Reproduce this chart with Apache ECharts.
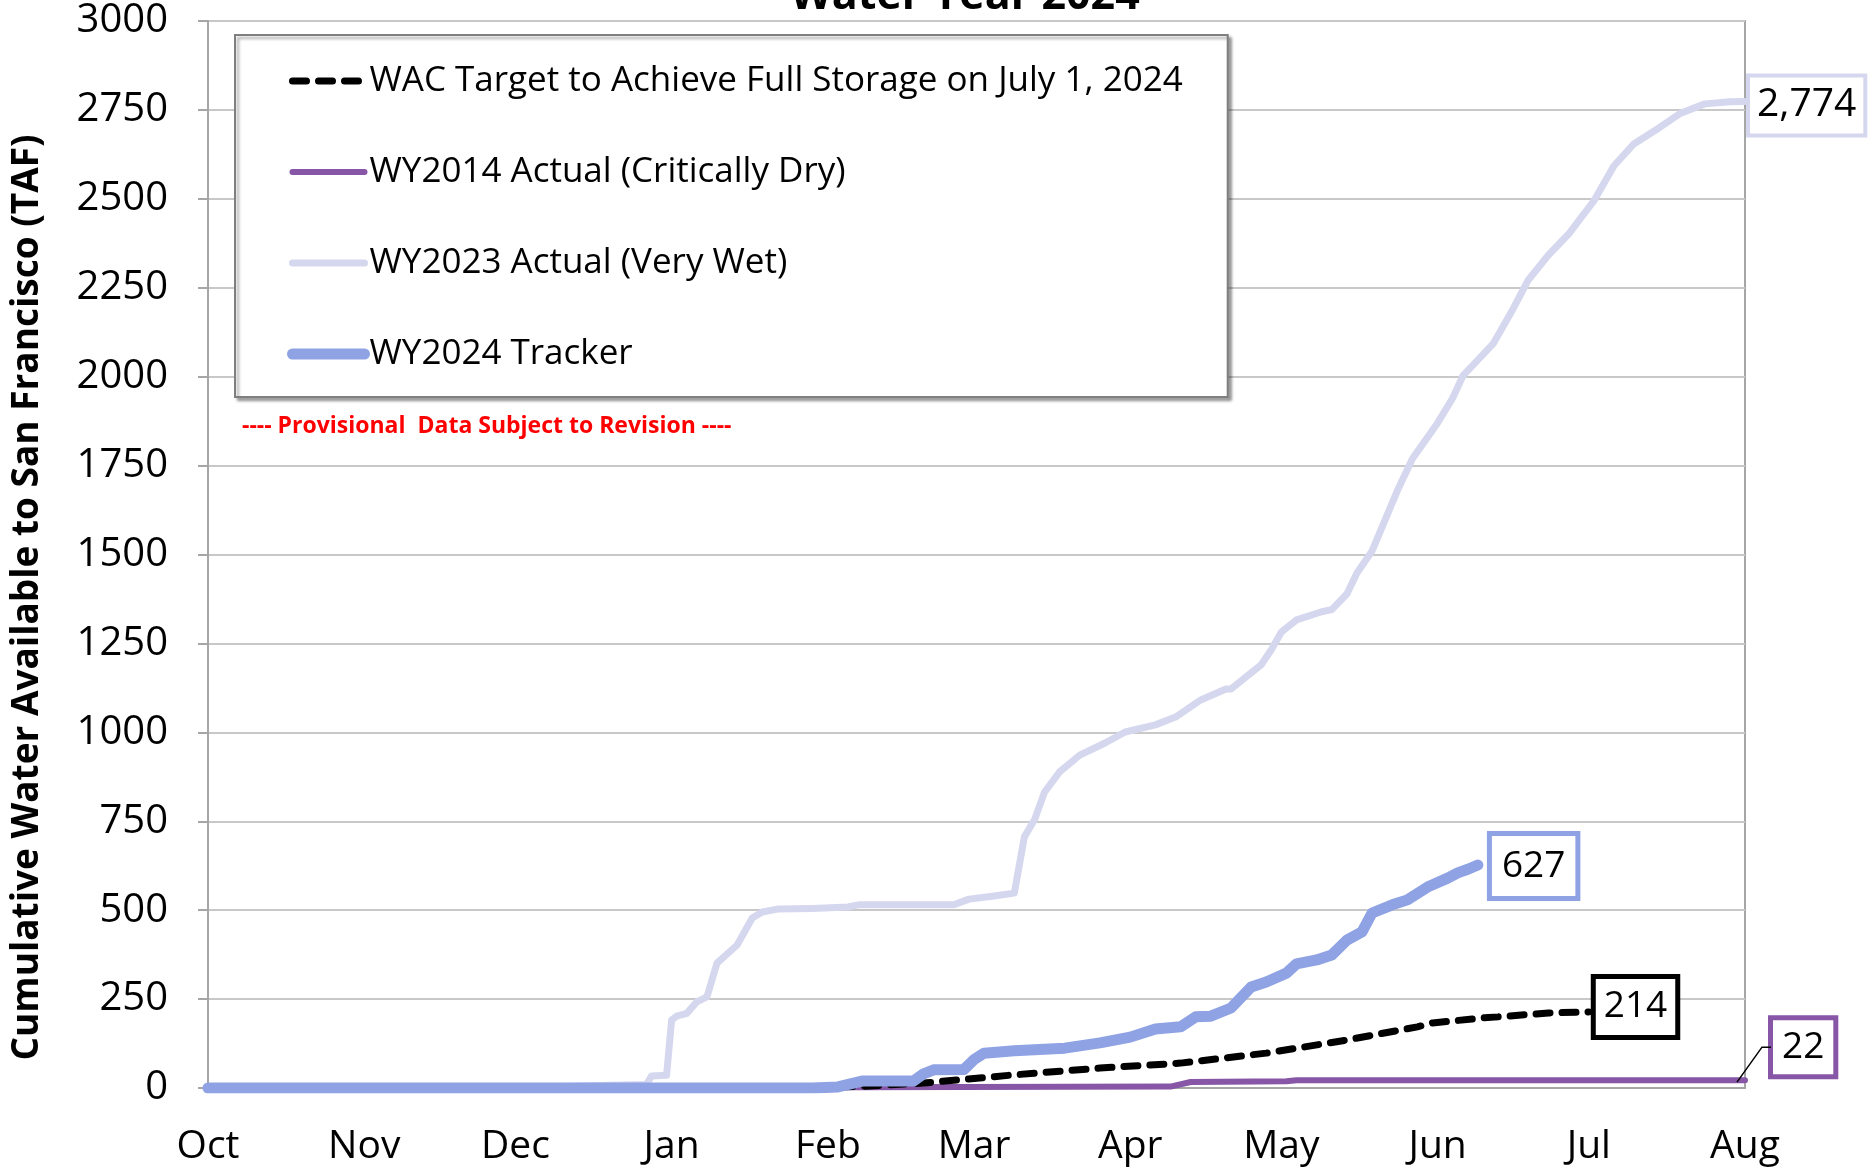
<!DOCTYPE html>
<html>
<head>
<meta charset="utf-8">
<script src="https://cdn.jsdelivr.net/npm/echarts@6/dist/echarts.min.js"></script>
<style>
html,body{margin:0;padding:0;background:#fff;}
#chart{width:1868px;height:1168px;}
</style>
</head>
<body>
<div id="chart"></div>
<script>
// ---- categories (days of water year, Oct 1 2023 .. Aug 1 2024) ----
const monthNames = ['Oct','Nov','Dec','Jan','Feb','Mar','Apr','May','Jun','Jul','Aug'];
const monthLengths = [31,30,31,31,29,31,30,31,30,31,1];
const categories = [];
monthNames.forEach((m, i) => { for (let d = 1; d <= monthLengths[i]; d++) categories.push(m + ' ' + d); });

// ---- y axis ticks ----
const yMin = 0, yMax = 3000, yInterval = 250;

// ---- series (day index of water year, cumulative TAF) ----
const wy2023Days = [0,65,70,80,87,88,91,92,93,95,97,99,101,105,108,110,113,120,127,129,148,151,156,160,162,164,166,169,173,178,182,188,192,197,202,203,209,211,213,216,221,223,226,228,231,236,239,244,247,249,255,259,262,266,270,275,279,283,288,292,297,302,305];
const wy2023Vals = [0,0,4,8,10,34,36,191,202,210,242,256,351,402,478,495,503,505,509,515,515,531,540,548,706,754,832,889,936,970,1001,1021,1043,1091,1122,1122,1190,1232,1282,1316,1339,1345,1389,1448,1510,1679,1769,1870,1940,2002,2092,2191,2272,2342,2401,2494,2593,2655,2700,2739,2767,2773,2774];

const wy2014Days = [0,129,191,195,214,216,305];
const wy2014Vals = [0,2,4,17,19,22,22];

const targetDays = [120,130,142,160,177,193,210,226,240,243,253,256,266,274];
const targetVals = [0,5,14,37,56,70,98,135,172,183,197,200,211,214];

const trackerDays = [0,120,125,130,140,142,144,150,152,154,160,170,177,183,188,193,196,199,203,207,210,214,216,220,223,226,229,231,235,238,242,246,248,250,252];
const trackerVals = [0,0,3,20,20,40,51,52,80,98,105,112,127,143,166,172,200,202,225,284,298,323,349,360,374,416,439,492,515,529,565,590,605,615,627];

const names = {
  target: 'WAC Target to Achieve Full Storage on July 1, 2024',
  wy2014: 'WY2014 Actual (Critically Dry)',
  wy2023: 'WY2023 Actual (Very Wet)',
  tracker: 'WY2024 Tracker'
};

const colors = {target: '#000000', wy2014: '#8756a6', wy2023: '#d5d7ef', tracker: '#8fa2e4'};
const widths = {target: 7, wy2014: 6, wy2023: 7, tracker: 11};
const targetDash = [14, 12];

const zip = (d, v) => d.map((x, i) => [x, v[i]]);
const FONT = 'Open Sans';
const fmt = p => Number(p.value[1]).toLocaleString('en-US');

const legendItem = (key, extra) => ({
  name: names[key],
  itemStyle: {opacity: 0},
  lineStyle: Object.assign({color: colors[key], width: widths[key], cap: 'round', opacity: 1}, extra || {})
});

const chart = echarts.init(document.getElementById('chart'), null, {renderer: 'canvas'});

const option = {
  animation: false,
  backgroundColor: '#ffffff',
  textStyle: {fontFamily: FONT},
  grid: {left: 208, right: 123, top: 21, bottom: 80, show: true, borderColor: '#a6a6a6', borderWidth: 2, containLabel: false},
  legend: {
    data: [
      legendItem('target', {type: targetDash, cap: 'round'}),
      legendItem('wy2014'),
      legendItem('wy2023'),
      legendItem('tracker')
    ],
    orient: 'vertical',
    left: 235, top: 35,
    padding: [26, 45, 23, 52],
    itemGap: 51,
    itemWidth: 72,
    itemHeight: 20,
    borderColor: '#7f7f7f',
    borderWidth: 2,
    backgroundColor: '#ffffff',
    shadowColor: 'rgba(0,0,0,0.35)',
    shadowBlur: 3,
    shadowOffsetX: 3,
    shadowOffsetY: 3,
    selectedMode: false,
    textStyle: {fontFamily: FONT, fontSize: 35, color: '#000', lineHeight: 40, width: 807}
  },
  xAxis: {
    type: 'category',
    data: categories,
    boundaryGap: false,
    axisLine: {show: true, lineStyle: {color: '#a6a6a6', width: 2}},
    axisTick: {show: false},
    splitLine: {show: false},
    axisLabel: {
      interval: (idx, val) => val.split(' ')[1] === '1',
      formatter: val => val.split(' ')[0],
      fontFamily: FONT, fontSize: 39, color: '#000', margin: 39,
      showMinLabel: true, showMaxLabel: true
    }
  },
  yAxis: {
    type: 'value',
    min: yMin, max: yMax, interval: yInterval,
    name: 'Cumulative Water Available to San Francisco (TAF)',
    nameLocation: 'middle',
    nameRotate: 90,
    nameGap: 162,
    nameTextStyle: {fontFamily: FONT, fontSize: 37, fontWeight: 'bold', color: '#000', padding: [0, 86, 0, 0]},
    axisLine: {show: true, lineStyle: {color: '#a6a6a6', width: 2}},
    axisTick: {show: true, length: 10, lineStyle: {color: '#a6a6a6', width: 2}},
    splitLine: {show: true, lineStyle: {color: '#c8c8c8', width: 2}},
    axisLabel: {fontFamily: FONT, fontSize: 40, color: '#000', margin: 40, formatter: v => String(v)}
  },
  series: [
    {
      name: names.wy2023, type: 'line', data: zip(wy2023Days, wy2023Vals),
      symbol: 'none', z: 2,
      lineStyle: {color: colors.wy2023, width: widths.wy2023, cap: 'round', join: 'round'},
      itemStyle: {color: colors.wy2023},
      endLabel: {
        show: true, formatter: fmt, distance: 5, offset: [0, 4],
        fontFamily: FONT, fontSize: 39, lineHeight: 44, color: '#000',
        backgroundColor: '#fff', borderColor: colors.wy2023, borderWidth: 4, padding: [6, 7, 6, 7]
      }
    },
    {
      name: names.wy2014, type: 'line', data: zip(wy2014Days, wy2014Vals),
      symbol: 'none', z: 3,
      lineStyle: {color: colors.wy2014, width: widths.wy2014, cap: 'round'},
      itemStyle: {color: colors.wy2014},
      endLabel: {
        show: true, formatter: fmt, distance: 5, offset: [23, -33],
        fontFamily: FONT, fontSize: 37, lineHeight: 44, color: '#000',
        backgroundColor: '#fff', borderColor: colors.wy2014, borderWidth: 5, padding: [5, 9, 5, 9]
      }
    },
    {
      name: names.target, type: 'line', data: zip(targetDays, targetVals),
      symbol: 'none', z: 4,
      lineStyle: {color: colors.target, width: widths.target, type: targetDash, cap: 'round'},
      itemStyle: {color: colors.target},
      endLabel: {
        show: true, formatter: fmt, distance: 7, offset: [0, -5],
        fontFamily: FONT, fontSize: 37, lineHeight: 44, color: '#000',
        backgroundColor: '#fff', borderColor: '#000', borderWidth: 5, padding: [6, 8, 6, 8]
      }
    },
    {
      name: names.tracker, type: 'line', data: zip(trackerDays, trackerVals),
      symbol: 'none', z: 5,
      lineStyle: {color: colors.tracker, width: widths.tracker, cap: 'round', join: 'round'},
      itemStyle: {color: colors.tracker},
      endLabel: {
        show: true, formatter: fmt, distance: 14, offset: [0, 1],
        fontFamily: FONT, fontSize: 37, lineHeight: 44, color: '#000',
        backgroundColor: '#fff', borderColor: colors.tracker, borderWidth: 5, padding: [8, 10, 8, 10]
      }
    }
  ],
  graphic: [
    {id: 'title', type: 'text', x: 965, y: -3, z: 10,
     style: {text: 'Water Year 2024', fill: '#000', font: 'bold 43px "Open Sans"', align: 'center', verticalAlign: 'middle'}},
    {id: 'prov', type: 'text', x: 242, y: 426, z: 10,
     style: {text: '---- Provisional  Data Subject to Revision ----', fill: '#ff0000', font: 'bold 23px "Open Sans"', align: 'left', verticalAlign: 'middle'}}
  ]
};

chart.setOption(option);

// leader line for the WY2014 end label
const lastIdx = wy2014Days.length - 1;
const p = chart.convertToPixel({xAxisIndex: 0, yAxisIndex: 0}, [wy2014Days[lastIdx], wy2014Vals[lastIdx]]);
chart.setOption({
  graphic: [
    {id: 'leader', type: 'polyline', z: 10,
     shape: {points: [[p[0] - 8, p[1] + 2], [p[0] + 17, p[1] - 33], [p[0] + 26, p[1] - 33]]},
     style: {stroke: '#000', lineWidth: 1.5, fill: null}}
  ]
});
</script>
</body>
</html>
